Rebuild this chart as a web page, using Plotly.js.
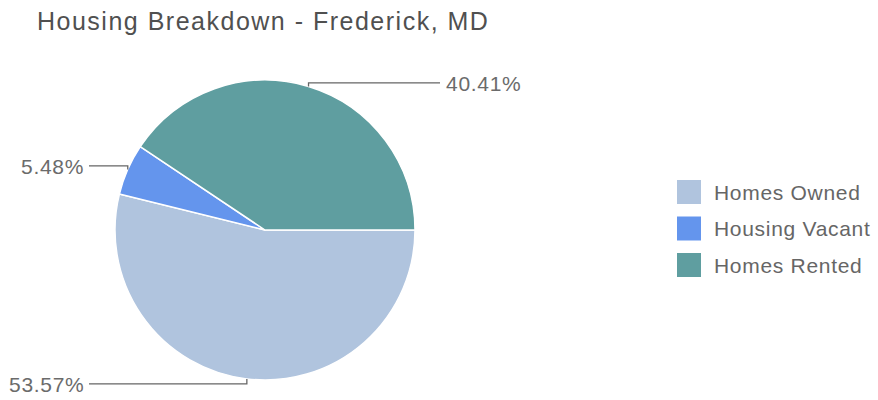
<!DOCTYPE html>
<html>
<head>
<meta charset="utf-8">
<script src="https://cdn.plot.ly/plotly-3.0.1.min.js"></script>
<style>
  html, body { margin: 0; padding: 0; background: #fff; }
  #chart { width: 878px; height: 400px; }
  .gtitle { letter-spacing: 1.5px; }
  .annotation-text { letter-spacing: 0.7px; }
</style>
</head>
<body>
<div id="chart"></div>
<script>
// ---- data ----
const chartTitle = "Housing Breakdown - Frederick, MD";
const categories = ["Homes Owned", "Housing Vacant", "Homes Rented"];
const values = [53.57, 5.48, 40.41];
const labelTexts = ["53.57%", "5.48%", "40.41%"];
const colors = ["#b0c4de", "#6495ed", "#5f9ea0"];

// ---- layout geometry (pixels) ----
const W = 878, H = 400;
const CX = 265, CY = 230, R = 150;
const px = x => x / W;
const py = y => 1 - y / H;

const FONT = "Liberation Sans, Arial, Helvetica, sans-serif";

const trace = {
  type: "pie",
  labels: categories,
  values: values,
  sort: false,
  direction: "clockwise",
  rotation: 90,
  textinfo: "none",
  hoverinfo: "label+percent",
  marker: { colors: colors, line: { color: "#ffffff", width: 1.5 } },
  domain: { x: [px(CX - R), px(CX + R)], y: [py(CY + R), py(CY - R)] },
  showlegend: false
};

// ---- leader lines and labels computed from values ----
const total = values.reduce((a, b) => a + b, 0);
const shapes = [];
const annotations = [];
let acc = 0;
values.forEach((v, i) => {
  const midFrac = (acc + v / 2) / total;
  acc += v;
  const th = midFrac * 2 * Math.PI; // clockwise from 3 o'clock (screen coords)
  const ex = CX + R * Math.cos(th);
  const ey = CY + R * Math.sin(th);
  const right = Math.cos(th) >= 0;
  const ly = ey + (Math.sin(th) >= 0 ? 5 : -3.5);
  const lineEndX = right ? CX + R + 25 : CX - R - 26;
  shapes.push({
    type: "path", xref: "paper", yref: "paper",
    path: `M${px(ex)},${py(ey)} L${px(ex)},${py(ly)} L${px(lineEndX)},${py(ly)}`,
    line: { color: "#666666", width: 1.3 }
  });
  annotations.push({
    xref: "paper", yref: "paper",
    x: px(right ? lineEndX + 4 : lineEndX - 3), y: py(ly + 1),
    xanchor: right ? "left" : "right", yanchor: "middle",
    text: labelTexts[i], showarrow: false,
    font: { family: FONT, size: 21, color: "#6b6b6b" }
  });
});

// ---- legend built from categories ----
const LEG_X = 677, LEG_Y0 = 192, LEG_DY = 36.5, SQ = 24;
categories.forEach((c, i) => {
  const yc = LEG_Y0 + i * LEG_DY;
  shapes.push({
    type: "rect", xref: "paper", yref: "paper",
    x0: px(LEG_X), x1: px(LEG_X + SQ), y0: py(yc + SQ / 2), y1: py(yc - SQ / 2),
    fillcolor: colors[i], line: { width: 0 }
  });
  annotations.push({
    xref: "paper", yref: "paper",
    x: px(LEG_X + SQ + 11), y: py(yc),
    xanchor: "left", yanchor: "middle",
    text: c, showarrow: false,
    font: { family: FONT, size: 21, color: "#666666" }
  });
});

const layout = {
  width: W, height: H,
  margin: { l: 0, r: 0, t: 0, b: 0 },
  paper_bgcolor: "#ffffff",
  plot_bgcolor: "#ffffff",
  title: {
    text: chartTitle,
    x: px(37), xanchor: "left", xref: "paper",
    y: py(21), yanchor: "middle", yref: "paper",
    font: { family: FONT, size: 25, color: "#505050" }
  },
  showlegend: false,
  shapes: shapes,
  annotations: annotations
};

Plotly.newPlot("chart", [trace], layout, { displayModeBar: false, staticPlot: true });
</script>
</body>
</html>
